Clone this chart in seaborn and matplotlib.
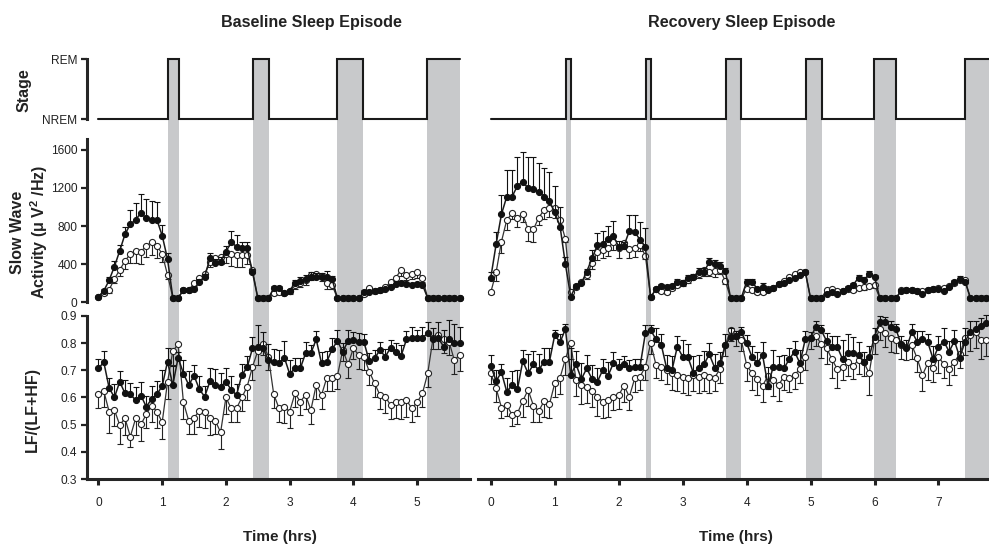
import numpy as np
import pandas as pd
import matplotlib
matplotlib.use("Agg")
import matplotlib.pyplot as plt
import seaborn as sns

# ---------------- data ----------------
EPOCHS_PER_HOUR = 12  # 5-min epochs

# REM periods (hours)
base_rem = [(1.09, 1.26), (2.43, 2.67), (3.75, 4.15), (5.16, 5.67)]
rec_rem = [(1.17, 1.26), (2.43, 2.50), (3.67, 3.91), (4.93, 5.18), (5.99, 6.34), (7.42, 8.0)]
base_end = 5.67
rec_end = 8.0

# Baseline: slow wave activity
base_swa_filled = [60, 120, 230, 375, 540, 715, 820, 865, 940, 880, 865, 865,
                   700, 455, 50, 50, 125, 130, 137, 217, 270, 462, 416, 427,
                   532, 630, 584, 567, 574, 315, 45, 45, 45, 147, 147, 95,
                   119, 206, 224, 245, 270, 270, 265, 270, 241, 42, 42, 42,
                   42, 42, 105, 112, 115, 125, 135, 165, 190, 200, 190, 185,
                   195, 185, 42, 42, 42, 42, 42, 42, 42]
base_swa_open = [60, 95, 130, 245, 340, 434, 508, 539, 532, 592, 630, 592,
                 508, 287, 49, 49, 125, 130, 200, 250, 300, 420, 470, 480,
                 510, 510, 500, 500, 500, 340, 45, 45, 45, 100, 110, 100,
                 120, 180, 200, 230, 290, 300, 280, 200, 180, 40, 40, 40,
                 40, 40, 84, 150, 120, 130, 160, 210, 260, 340, 290, 300,
                 320, 260, 42, 42, 42, 42, 42, 42, 42]
base_swa_filled_err = [10, 20, 40, 60, 60, 80, 150, 180, 200, 200, 200, 190,
                       110, 60, 10, 10, 20, 20, 20, 30, 30, 60, 40, 50,
                       60, 120, 120, 70, 60, 30, 10, 10, 10, 20, 20, 20,
                       20, 30, 40, 40, 50, 40, 40, 60, 40, 10, 10, 10,
                       10, 10, 20, 20, 20, 20, 20, 20, 30, 20, 20, 20,
                       20, 20, 10, 10, 10, 10, 10, 10, 10]
base_swa_open_err = [10, 20, 30, 40, 60, 80, 100, 130, 130, 120, 130, 130,
                     90, 40, 10, 10, 20, 20, 30, 30, 40, 50, 60, 80,
                     100, 130, 130, 130, 100, 30, 10, 10, 10, 20, 20, 20,
                     30, 40, 40, 50, 60, 60, 60, 60, 40, 10, 10, 10,
                     10, 10, 20, 20, 20, 20, 30, 30, 40, 60, 60, 60,
                     60, 50, 10, 10, 10, 10, 10, 10, 10]

# Baseline: LF/(LF+HF)
base_lf_filled = [0.707, 0.73, 0.636, 0.60, 0.658, 0.615, 0.612, 0.59, 0.607, 0.566, 0.594, 0.612,
                  0.642, 0.732, 0.646, 0.747, 0.688, 0.646, 0.68, 0.63, 0.603, 0.66, 0.646, 0.64,
                  0.658, 0.628, 0.609, 0.683, 0.711, 0.781, 0.787, 0.781, 0.738, 0.73, 0.726, 0.747,
                  0.687, 0.707, 0.707, 0.763, 0.763, 0.814, 0.726, 0.732, 0.778, 0.808, 0.769, 0.808,
                  0.812, 0.806, 0.803, 0.734, 0.744, 0.775, 0.75, 0.783, 0.769, 0.754, 0.814, 0.818,
                  0.818, 0.82, 0.836, 0.815, 0.818, 0.787, 0.815, 0.80, 0.80]
base_lf_open = [0.612, 0.624, 0.548, 0.554, 0.499, 0.523, 0.456, 0.523, 0.501, 0.538, 0.57, 0.548,
                0.509, 0.656, 0.771, 0.796, 0.582, 0.514, 0.526, 0.55, 0.548, 0.523, 0.514, 0.472,
                0.60, 0.56, 0.56, 0.60, 0.64, 0.713, 0.771, 0.796, 0.75, 0.612, 0.56, 0.566,
                0.548, 0.615, 0.585, 0.609, 0.554, 0.646, 0.609, 0.673, 0.673, 0.68, 0.775, 0.722,
                0.781, 0.756, 0.75, 0.695, 0.652, 0.609, 0.603, 0.572, 0.585, 0.582, 0.59, 0.56,
                0.582, 0.615, 0.689, 0.818, 0.83, 0.815, 0.806, 0.738, 0.756]
base_lf_filled_err = [0.035, 0.04, 0.035, 0.05, 0.04, 0.05, 0.04, 0.05, 0.05, 0.04, 0.05, 0.05,
                      0.06, 0.05, 0.07, 0.02, 0.05, 0.05, 0.04, 0.05, 0.04, 0.05, 0.06, 0.05,
                      0.05, 0.05, 0.04, 0.04, 0.04, 0.04, 0.08, 0.06, 0.06, 0.05, 0.05, 0.06,
                      0.05, 0.04, 0.04, 0.04, 0.03, 0.03, 0.04, 0.04, 0.04, 0.04, 0.03, 0.04,
                      0.03, 0.03, 0.03, 0.03, 0.03, 0.03, 0.03, 0.03, 0.03, 0.04, 0.03, 0.04,
                      0.03, 0.04, 0.04, 0.04, 0.06, 0.06, 0.07, 0.07, 0.06]
base_lf_open_err = [0.05, 0.06, 0.08, 0.06, 0.07, 0.06, 0.04, 0.06, 0.06, 0.05, 0.06, 0.06,
                    0.06, 0.06, 0.05, 0.05, 0.06, 0.05, 0.06, 0.06, 0.06, 0.06, 0.05, 0.06,
                    0.06, 0.05, 0.05, 0.05, 0.05, 0.05, 0.05, 0.04, 0.05, 0.05, 0.05, 0.06,
                    0.06, 0.05, 0.05, 0.05, 0.05, 0.05, 0.05, 0.05, 0.05, 0.05, 0.04, 0.05,
                    0.04, 0.05, 0.05, 0.05, 0.05, 0.05, 0.06, 0.05, 0.06, 0.06, 0.06, 0.05,
                    0.05, 0.05, 0.05, 0.04, 0.05, 0.05, 0.05, 0.05, 0.06]

# Recovery: slow wave activity
rec_swa_filled = [259, 609, 924, 1110, 1110, 1222, 1267, 1197, 1187, 1162, 1110, 1064,
                  945, 795, 399, 60, 175, 200, 322, 462, 602, 609, 661, 696,
                  584, 595, 749, 742, 654, 584, 52, 140, 175, 164, 175, 217,
                  206, 259, 270, 322, 322, 420, 399, 385, 330, 45, 45, 45,
                  217, 217, 140, 164, 130, 154, 189, 200, 235, 259, 287, 322,
                  42, 42, 42, 84, 105, 84, 119, 147, 182, 259, 235, 294,
                  270, 42, 42, 42, 42, 119, 130, 130, 119, 84, 130, 140,
                  140, 119, 164, 217, 245, 217, 42, 42, 42, 42]
rec_swa_open = [105, 315, 637, 864, 934, 889, 924, 766, 766, 889, 969, 994,
                987, 864, 665, 112, 164, 217, 287, 410, 525, 549, 567, 630,
                567, 620, 560, 574, 602, 490, 52, 140, 119, 112, 147, 182,
                200, 235, 270, 294, 340, 322, 329, 340, 224, 42, 42, 42,
                140, 130, 112, 112, 140, 154, 189, 224, 270, 294, 315, 322,
                42, 42, 42, 130, 140, 119, 119, 140, 130, 147, 164, 175,
                182, 42, 42, 42, 42, 125, 125, 125, 120, 115, 130, 140,
                145, 150, 175, 205, 235, 230, 42, 42, 42, 42]
rec_swa_filled_err = [60, 130, 200, 280, 280, 300, 310, 330, 340, 300, 300, 300,
                      280, 200, 80, 10, 20, 20, 30, 90, 130, 140, 140, 160,
                      60, 40, 170, 170, 190, 200, 10, 20, 20, 20, 20, 30,
                      30, 30, 30, 40, 40, 50, 40, 40, 30, 10, 10, 10,
                      30, 30, 20, 40, 20, 20, 20, 20, 20, 20, 20, 20,
                      10, 10, 10, 20, 20, 20, 20, 20, 20, 30, 30, 30,
                      20, 10, 10, 10, 10, 20, 20, 20, 20, 20, 20, 20,
                      20, 20, 20, 20, 30, 20, 10, 10, 10, 10]
rec_swa_open_err = [20, 90, 120, 110, 60, 100, 80, 120, 130, 80, 100, 100,
                    100, 80, 30, 10, 20, 20, 40, 60, 80, 80, 80, 80,
                    100, 60, 100, 100, 60, 40, 10, 20, 20, 20, 20, 20,
                    30, 30, 30, 40, 60, 50, 60, 40, 30, 10, 10, 10,
                    20, 20, 20, 20, 20, 20, 20, 30, 30, 30, 30, 20,
                    10, 10, 10, 20, 20, 20, 20, 20, 20, 20, 30, 30,
                    30, 10, 10, 10, 10, 20, 20, 20, 20, 20, 20, 20,
                    20, 20, 20, 20, 20, 20, 10, 10, 10, 10]

# Recovery: LF/(LF+HF)
rec_lf_filled = [0.716, 0.661, 0.693, 0.621, 0.646, 0.63, 0.734, 0.689, 0.722, 0.701, 0.732, 0.732,
                 0.83, 0.803, 0.852, 0.683, 0.722, 0.668, 0.707, 0.668, 0.658, 0.701, 0.68, 0.726,
                 0.713, 0.722, 0.707, 0.713, 0.713, 0.836, 0.848, 0.814, 0.793, 0.707, 0.701, 0.787,
                 0.75, 0.748, 0.691, 0.707, 0.722, 0.759, 0.71, 0.726, 0.793, 0.824, 0.826, 0.84,
                 0.80, 0.75, 0.726, 0.756, 0.644, 0.713, 0.713, 0.707, 0.741, 0.769, 0.726, 0.814,
                 0.82, 0.861, 0.848, 0.808, 0.787, 0.787, 0.741, 0.763, 0.763, 0.756, 0.729, 0.75,
                 0.824, 0.879, 0.877, 0.861, 0.852, 0.796, 0.781, 0.842, 0.806, 0.815, 0.803, 0.741,
                 0.787, 0.806, 0.769, 0.808, 0.747, 0.806, 0.842, 0.852, 0.864, 0.873]
rec_lf_open = [0.689, 0.634, 0.563, 0.572, 0.536, 0.542, 0.587, 0.628, 0.57, 0.55, 0.587, 0.575,
               0.652, 0.673, 0.742, 0.80, 0.664, 0.646, 0.64, 0.624, 0.603, 0.585, 0.59, 0.603,
               0.609, 0.643, 0.603, 0.67, 0.677, 0.713, 0.80, 0.72, 0.713, 0.70, 0.689, 0.683,
               0.677, 0.67, 0.683, 0.677, 0.683, 0.677, 0.673, 0.705, 0.793, 0.848, 0.828, 0.812,
               0.72, 0.689, 0.668, 0.643, 0.68, 0.664, 0.646, 0.677, 0.67, 0.683, 0.705, 0.75,
               0.818, 0.828, 0.796, 0.783, 0.741, 0.705, 0.713, 0.729, 0.717, 0.738, 0.729, 0.689,
               0.81, 0.852, 0.836, 0.818, 0.812, 0.793, 0.787, 0.793, 0.744, 0.683, 0.726, 0.707,
               0.75, 0.722, 0.705, 0.732, 0.76, 0.818, 0.83, 0.842, 0.812, 0.812]
rec_lf_filled_err = [0.04, 0.04, 0.03, 0.05, 0.05, 0.07, 0.04, 0.07, 0.05, 0.06, 0.05, 0.05,
                     0.02, 0.03, 0.02, 0.10, 0.05, 0.06, 0.05, 0.05, 0.05, 0.04, 0.05, 0.04,
                     0.03, 0.03, 0.03, 0.03, 0.03, 0.03, 0.02, 0.04, 0.04, 0.05, 0.05, 0.04,
                     0.06, 0.05, 0.06, 0.05, 0.05, 0.04, 0.05, 0.04, 0.04, 0.03, 0.02, 0.02,
                     0.03, 0.04, 0.04, 0.05, 0.07, 0.06, 0.04, 0.05, 0.04, 0.04, 0.05, 0.03,
                     0.02, 0.02, 0.02, 0.03, 0.04, 0.04, 0.07, 0.07, 0.06, 0.05, 0.04, 0.04,
                     0.03, 0.02, 0.02, 0.02, 0.02, 0.03, 0.03, 0.03, 0.04, 0.03, 0.03, 0.05,
                     0.04, 0.05, 0.04, 0.04, 0.06, 0.05, 0.04, 0.03, 0.03, 0.03]
rec_lf_open_err = [0.04, 0.05, 0.04, 0.04, 0.04, 0.04, 0.06, 0.06, 0.06, 0.04, 0.06, 0.05,
                   0.05, 0.06, 0.06, 0.06, 0.06, 0.07, 0.06, 0.06, 0.07, 0.06, 0.06, 0.05,
                   0.05, 0.06, 0.05, 0.05, 0.05, 0.05, 0.04, 0.05, 0.05, 0.05, 0.06, 0.06,
                   0.06, 0.06, 0.06, 0.06, 0.06, 0.06, 0.05, 0.05, 0.04, 0.04, 0.04, 0.04,
                   0.06, 0.06, 0.06, 0.06, 0.05, 0.06, 0.06, 0.05, 0.05, 0.05, 0.05, 0.05,
                   0.04, 0.04, 0.05, 0.06, 0.07, 0.07, 0.05, 0.05, 0.05, 0.05, 0.05, 0.08,
                   0.05, 0.04, 0.05, 0.05, 0.05, 0.05, 0.05, 0.05, 0.05, 0.06, 0.06, 0.05,
                   0.06, 0.05, 0.06, 0.05, 0.05, 0.06, 0.06, 0.06, 0.07, 0.06]

base_xticks = [0, 1, 2, 3, 4, 5]
rec_xticks = [0, 1, 2, 3, 4, 5, 6, 7]
swa_yticks = [0, 400, 800, 1200, 1600]
lf_yticks = [0.3, 0.4, 0.5, 0.6, 0.7, 0.8, 0.9]
stage_labels = ["NREM", "REM"]

# ---------------- style ----------------
sns.set_style("ticks")
plt.rcParams['font.family'] = ['Liberation Sans', 'DejaVu Sans']
plt.rcParams['mathtext.fontset'] = 'custom'
plt.rcParams['mathtext.rm'] = 'Liberation Sans'
plt.rcParams['mathtext.bf'] = 'Liberation Sans:bold'

SHADE = '#c8c9cb'
TXT = '#222222'
W, H = 989, 547
fig = plt.figure(figsize=(W / 100, H / 100), dpi=100)


def fx(px):
    return px / W


def fy(py):
    return 1 - py / H


cols = {'base': (87, 470, (-0.18, 5.83)), 'rec': (478, 989, (-0.2, 7.79))}
rows = {'stage': (59, 135), 'swa': (135, 310), 'lf': (310, 479)}

axes = {}
for c, (x0, x1, xl) in cols.items():
    for r, (y0, y1) in rows.items():
        ax = fig.add_axes([fx(x0), fy(y1), fx(x1 - x0), (y1 - y0) / H])
        ax.set_xlim(*xl)
        ax.patch.set_alpha(0)
        axes[(c, r)] = ax

for (c, r), ax in axes.items():
    for s in ['top', 'right']:
        ax.spines[s].set_visible(False)
    if r != 'lf':
        ax.spines['bottom'].set_visible(False)
    if c == 'rec':
        ax.spines['left'].set_visible(False)
    else:
        ax.spines['left'].set_linewidth(2.2)
        ax.tick_params(axis='y', length=4, width=1.6, pad=3, labelsize=8.6, colors=TXT)

for c in cols:
    axes[(c, 'stage')].set_ylim(-0.266, 1.0)
    axes[(c, 'swa')].set_ylim(-81, 1756)
    axes[(c, 'lf')].set_ylim(0.3, 0.922)

# REM shading + stage traces
for c, rem, end in [('base', base_rem, base_end), ('rec', rec_rem, rec_end)]:
    for r in rows:
        for a, b in rem:
            axes[(c, r)].axvspan(a, b, color=SHADE, lw=0, zorder=0)
    t, s = [0.0], [0]
    for a, b in rem:
        t += [a, a]
        s += [0, 1]
        if b < end - 1e-9:
            t += [b, b]
            s += [1, 0]
        else:
            t += [b]
            s += [1]
    if t[-1] < end:
        t.append(end)
        s.append(s[-1])
    axes[(c, 'stage')].plot(t, s, color='#1a1a1a', lw=1.5, clip_on=False, zorder=3,
                            solid_joinstyle='miter')


def draw_series(ax, vals_f, err_f, vals_o, err_o):
    n = len(vals_f)
    t = np.arange(n) / EPOCHS_PER_HOUR
    df = pd.DataFrame({'time': t, 'filled': vals_f, 'open': vals_o,
                       'err_f': err_f, 'err_o': err_o})
    ax.errorbar(df['time'], df['open'], yerr=[df['err_o'], np.zeros(n)], fmt='none',
                ecolor='#222222', elinewidth=0.8, capsize=2, capthick=0.8, zorder=1.5)
    sns.lineplot(data=df, x='time', y='open', ax=ax, color='#333333', lw=0.9,
                 marker='o', markersize=4.4, markerfacecolor='white',
                 markeredgecolor='#222222', markeredgewidth=0.8, estimator=None, zorder=2)
    ax.errorbar(df['time'], df['filled'], yerr=[np.zeros(n), df['err_f']], fmt='none',
                ecolor='#111111', elinewidth=0.8, capsize=2, capthick=0.8, zorder=2.5)
    sns.lineplot(data=df, x='time', y='filled', ax=ax, color='#1a1a1a', lw=1.1,
                 marker='o', markersize=4.4, markerfacecolor='#111111',
                 markeredgecolor='#111111', estimator=None, zorder=3)


draw_series(axes[('base', 'swa')], base_swa_filled, base_swa_filled_err, base_swa_open, base_swa_open_err)
draw_series(axes[('base', 'lf')], base_lf_filled, base_lf_filled_err, base_lf_open, base_lf_open_err)
draw_series(axes[('rec', 'swa')], rec_swa_filled, rec_swa_filled_err, rec_swa_open, rec_swa_open_err)
draw_series(axes[('rec', 'lf')], rec_lf_filled, rec_lf_filled_err, rec_lf_open, rec_lf_open_err)

# axes ticks / labels
for (c, r), ax in axes.items():
    ax.set_xlabel('')
    ax.set_ylabel('')
    if r != 'lf':
        ax.set_xticks([])
    if c == 'rec':
        ax.set_yticks([])

ax = axes[('base', 'stage')]
ax.set_yticks([0, 1])
ax.set_yticklabels(stage_labels)
ax.spines['left'].set_bounds(0, 1)

ax = axes[('base', 'swa')]
ax.set_yticks(swa_yticks)
ax.set_yticklabels([str(v) for v in swa_yticks])
ax.spines['left'].set_bounds(0, 1710)

ax = axes[('base', 'lf')]
ax.set_yticks(lf_yticks)
ax.set_yticklabels([f"{v:.1f}" for v in lf_yticks])
ax.spines['left'].set_bounds(0.3, 0.9)

for c, ticks in [('base', base_xticks), ('rec', rec_xticks)]:
    ax = axes[(c, 'lf')]
    ax.spines['bottom'].set_linewidth(2.2)
    ax.set_xticks(ticks)
    ax.set_xticklabels([str(t) for t in ticks])
    ax.tick_params(axis='x', length=4, width=2.2, pad=9, labelsize=8.6, colors=TXT)

# titles and labels
fig.text(fx(311), fy(22), 'Baseline Sleep Episode', ha='center', va='center',
         fontsize=11.6, fontweight='bold', color=TXT)
fig.text(fx(742), fy(22), 'Recovery Sleep Episode', ha='center', va='center',
         fontsize=11.6, fontweight='bold', color=TXT)
fig.text(fx(280), fy(537), 'Time (hrs)', ha='center', va='center',
         fontsize=11, fontweight='bold', color=TXT)
fig.text(fx(736), fy(537), 'Time (hrs)', ha='center', va='center',
         fontsize=11, fontweight='bold', color=TXT)
fig.text(fx(24), fy(90), 'Stage', rotation=90, ha='center', va='center',
         fontsize=11.5, fontweight='bold', color=TXT)
fig.text(fx(30), fy(232), 'Slow Wave\nActivity (μ V$^{\\mathbf{2}}$ /Hz)', rotation=90,
         ha='center', va='center', multialignment='center', linespacing=1.15,
         fontsize=11.5, fontweight='bold', color=TXT)
fig.text(fx(32), fy(409), 'LF/(LF+HF)', rotation=90, ha='center', va='center',
         fontsize=11.5, fontweight='bold', color=TXT)

fig.savefig('out.png', dpi=100)
